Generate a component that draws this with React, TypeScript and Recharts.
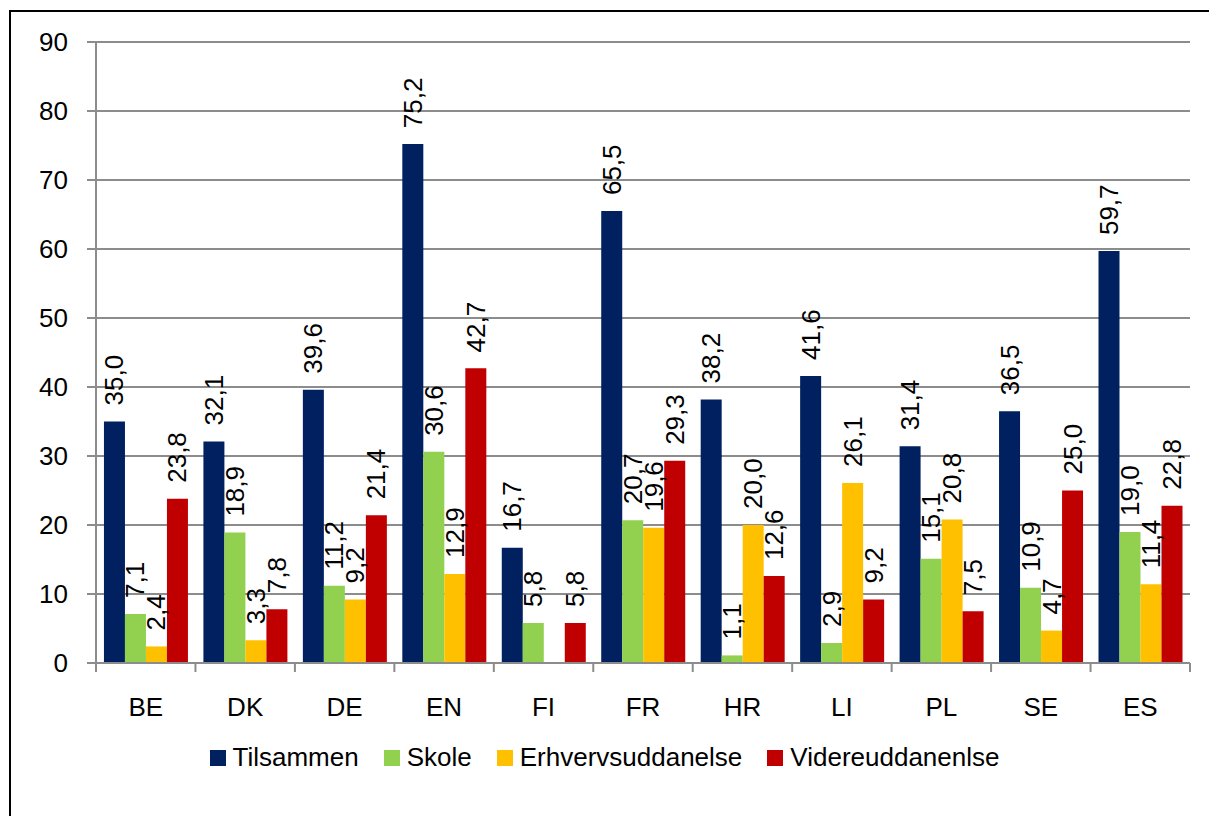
import React from 'react';
import { BarChart, Bar, XAxis, YAxis, CartesianGrid, Legend, LabelList } from 'recharts';

const categories = ['BE', 'DK', 'DE', 'EN', 'FI', 'FR', 'HR', 'LI', 'PL', 'SE', 'ES'];
const tilsammen = [35.0, 32.1, 39.6, 75.2, 16.7, 65.5, 38.2, 41.6, 31.4, 36.5, 59.7];
const skole = [7.1, 18.9, 11.2, 30.6, 5.8, 20.7, 1.1, 2.9, 15.1, 10.9, 19.0];
const erhverv = [2.4, 3.3, 9.2, 12.9, null, 19.6, 20.0, 26.1, 20.8, 4.7, 11.4];
const videre = [23.8, 7.8, 21.4, 42.7, 5.8, 29.3, 12.6, 9.2, 7.5, 25.0, 22.8];
const yTicks = [0, 10, 20, 30, 40, 50, 60, 70, 80, 90];

const series = [
  { key: 'tilsammen', name: 'Tilsammen', color: '#002060' },
  { key: 'skole', name: 'Skole', color: '#92D050' },
  { key: 'erhverv', name: 'Erhvervsuddanelse', color: '#FFC000' },
  { key: 'videre', name: 'Videreuddanenlse', color: '#C00000' },
];

const data = categories.map((c, i) => ({
  cat: c,
  tilsammen: tilsammen[i],
  skole: skole[i],
  erhverv: erhverv[i],
  videre: videre[i],
}));

const FONT = "'Liberation Sans', Arial, sans-serif";
const GRID = '#8c8c8c';
const X_TICK_SIZE = 6;
const X_TICK_MARGIN = 29;
const BOUNDARY_TICK = 9;

const fmt = (v: number) => v.toFixed(1).replace('.', ',');

const renderLabel = (props: any) => {
  const { x, y, width, value } = props;
  if (value == null) return null;
  const cx = Number(x) + Number(width) / 2;
  const cy = Number(y) - 16;
  return (
    <text
      x={cx}
      y={cy}
      transform={`rotate(-90 ${cx} ${cy})`}
      textAnchor="start"
      dominantBaseline="central"
      fontSize={26}
      fontFamily={FONT}
      fill="#000"
    >
      {fmt(Number(value))}
    </text>
  );
};

const renderXTick = (props: any) => {
  const { x, y, payload, index, visibleTicksCount } = props;
  const half = payload && payload.offset ? payload.offset : 0;
  const axisY = Number(y) - X_TICK_SIZE - X_TICK_MARGIN;
  const isLast = index === (visibleTicksCount ?? categories.length) - 1;
  return (
    <g>
      <line x1={x - half} x2={x - half} y1={axisY} y2={axisY + BOUNDARY_TICK} stroke={GRID} strokeWidth={2} />
      {isLast && (
        <line x1={x + half} x2={x + half} y1={axisY} y2={axisY + BOUNDARY_TICK} stroke={GRID} strokeWidth={2} />
      )}
      <text x={x} y={y} dy="0.71em" textAnchor="middle" fontSize={26} fontFamily={FONT} fill="#000">
        {payload.value}
      </text>
    </g>
  );
};

const renderLegend = () => {
  return (
    <div style={{ display: 'flex', justifyContent: 'center', alignItems: 'center', fontFamily: FONT, fontSize: 26, lineHeight: '30px', color: '#000' }}>
      {series.map((p, i) => (
        <div key={p.key} style={{ display: 'flex', alignItems: 'center', marginRight: i < series.length - 1 ? 25 : 0 }}>
          <span style={{ display: 'inline-block', width: 16, height: 16, background: p.color, marginRight: 7, marginTop: 2 }} />
          <span>{p.name}</span>
        </div>
      ))}
    </div>
  );
};

export default function App() {
  return (
    <div style={{ position: 'absolute', left: 0, top: 0, width: 1209, height: 816, background: '#fff', overflow: 'hidden' }}>
      <div style={{ position: 'absolute', left: 9, top: 10, width: 1300, height: 900, borderLeft: '2px solid #000', borderTop: '2px solid #000', boxSizing: 'border-box' }} />
      <div style={{ position: 'absolute', left: 0, top: 0 }}>
        <BarChart
          width={1209}
          height={816}
          data={data}
          margin={{ top: 42, right: 19, bottom: 93, left: 0 }}
          barCategoryGap="8%"
          barGap={0}
        >
          <CartesianGrid vertical={false} stroke={GRID} strokeWidth={2} />
          <XAxis
            dataKey="cat"
            tickLine={false}
            axisLine={{ stroke: GRID, strokeWidth: 2 }}
            tickSize={X_TICK_SIZE}
            tickMargin={X_TICK_MARGIN}
            height={60}
            interval={0}
            tick={renderXTick}
          />
          <YAxis
            width={96}
            domain={[0, 90]}
            ticks={yTicks}
            interval={0}
            tickSize={9}
            tickMargin={19}
            tickLine={{ stroke: GRID, strokeWidth: 2 }}
            axisLine={{ stroke: GRID, strokeWidth: 2 }}
            tick={{ fontSize: 26, fontFamily: FONT, fill: '#000' }}
          />
          <Legend
            verticalAlign="middle"
            align="center"
            content={renderLegend}
            wrapperStyle={{ top: 742, left: 0, width: 1209 }}
          />
          {series.map((s) => (
            <Bar key={s.key} dataKey={s.key} name={s.name} fill={s.color} isAnimationActive={false}>
              <LabelList dataKey={s.key} content={renderLabel} />
            </Bar>
          ))}
        </BarChart>
      </div>
    </div>
  );
}
